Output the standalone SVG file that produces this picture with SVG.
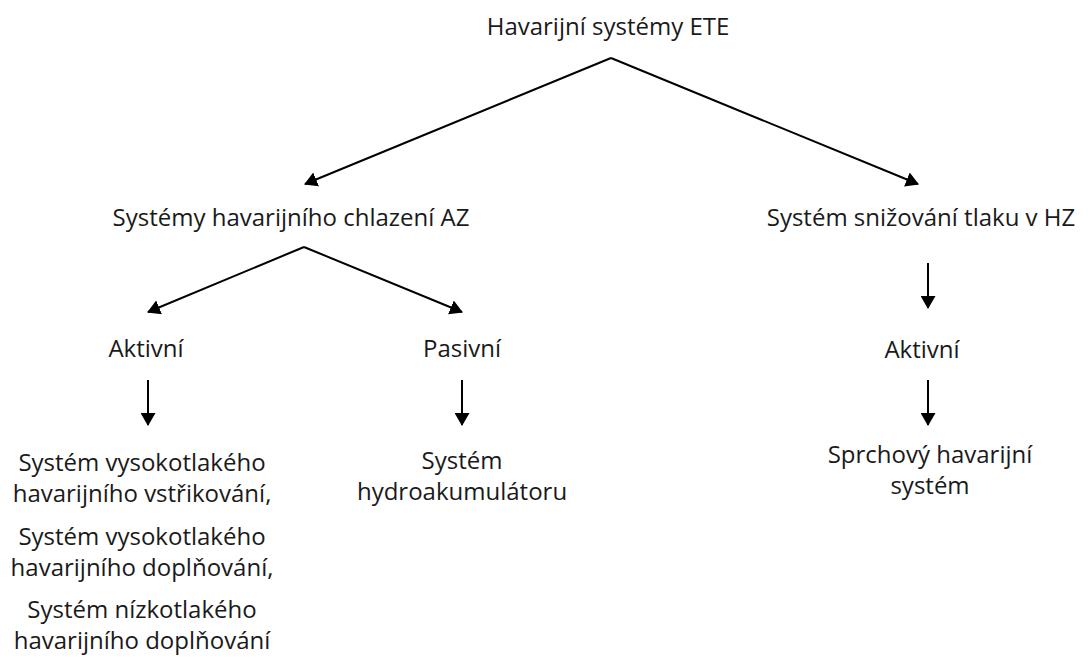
<svg xmlns="http://www.w3.org/2000/svg" width="1088" height="666" viewBox="0 0 1088 666">
<style>
text{font-family:"Open Sans","Noto Sans","Liberation Sans",sans-serif;font-size:24px;fill:#1a1a1a;text-anchor:middle}
.c{stroke:#000;stroke-width:2;fill:none}
</style>
<defs>
<marker id="ah" viewBox="0 0 13 15" refX="12" refY="7.5" markerWidth="13" markerHeight="15" markerUnits="userSpaceOnUse" orient="auto">
<path d="M0,0 L13,7.5 L0,15 Z" fill="#000"/>
</marker>
</defs>
<rect width="1088" height="666" fill="#fff"/>
<g id="connectors">
<path class="c" d="M611,58 L305,184" marker-end="url(#ah)"/>
<path class="c" d="M611,58 L918,184" marker-end="url(#ah)"/>
<path class="c" d="M304,247 L148,312" marker-end="url(#ah)"/>
<path class="c" d="M304,247 L462,312" marker-end="url(#ah)"/>
<path class="c" d="M148,380 L148,425" marker-end="url(#ah)"/>
<path class="c" d="M462,380 L462,425" marker-end="url(#ah)"/>
<path class="c" d="M928,263 L928,308" marker-end="url(#ah)"/>
<path class="c" d="M928,380 L928,425" marker-end="url(#ah)"/>
</g>
<g id="n-root"><text x="608" y="35">Havarijní systémy ETE</text></g>
<g id="n-az"><text x="291" y="226">Systémy havarijního chlazení AZ</text></g>
<g id="n-hz"><text x="921" y="226">Systém snižování tlaku v HZ</text></g>
<g id="n-akt1"><text x="146" y="357">Aktivní</text></g>
<g id="n-pas"><text x="462" y="357">Pasivní</text></g>
<g id="n-akt2"><text x="922" y="358">Aktivní</text></g>
<g id="n-list">
<text x="142" y="471">Systém vysokotlakého</text>
<text x="142" y="502">havarijního vstřikování,</text>
<text x="142" y="545">Systém vysokotlakého</text>
<text x="142" y="576">havarijního doplňování,</text>
<text x="142" y="618">Systém nízkotlakého</text>
<text x="142" y="649">havarijního doplňování</text>
</g>
<g id="n-hydro">
<text x="462" y="469">Systém</text>
<text x="462" y="500">hydroakumulátoru</text>
</g>
<g id="n-sprch">
<text x="930" y="463">Sprchový havarijní</text>
<text x="930" y="494">systém</text>
</g>
</svg>
